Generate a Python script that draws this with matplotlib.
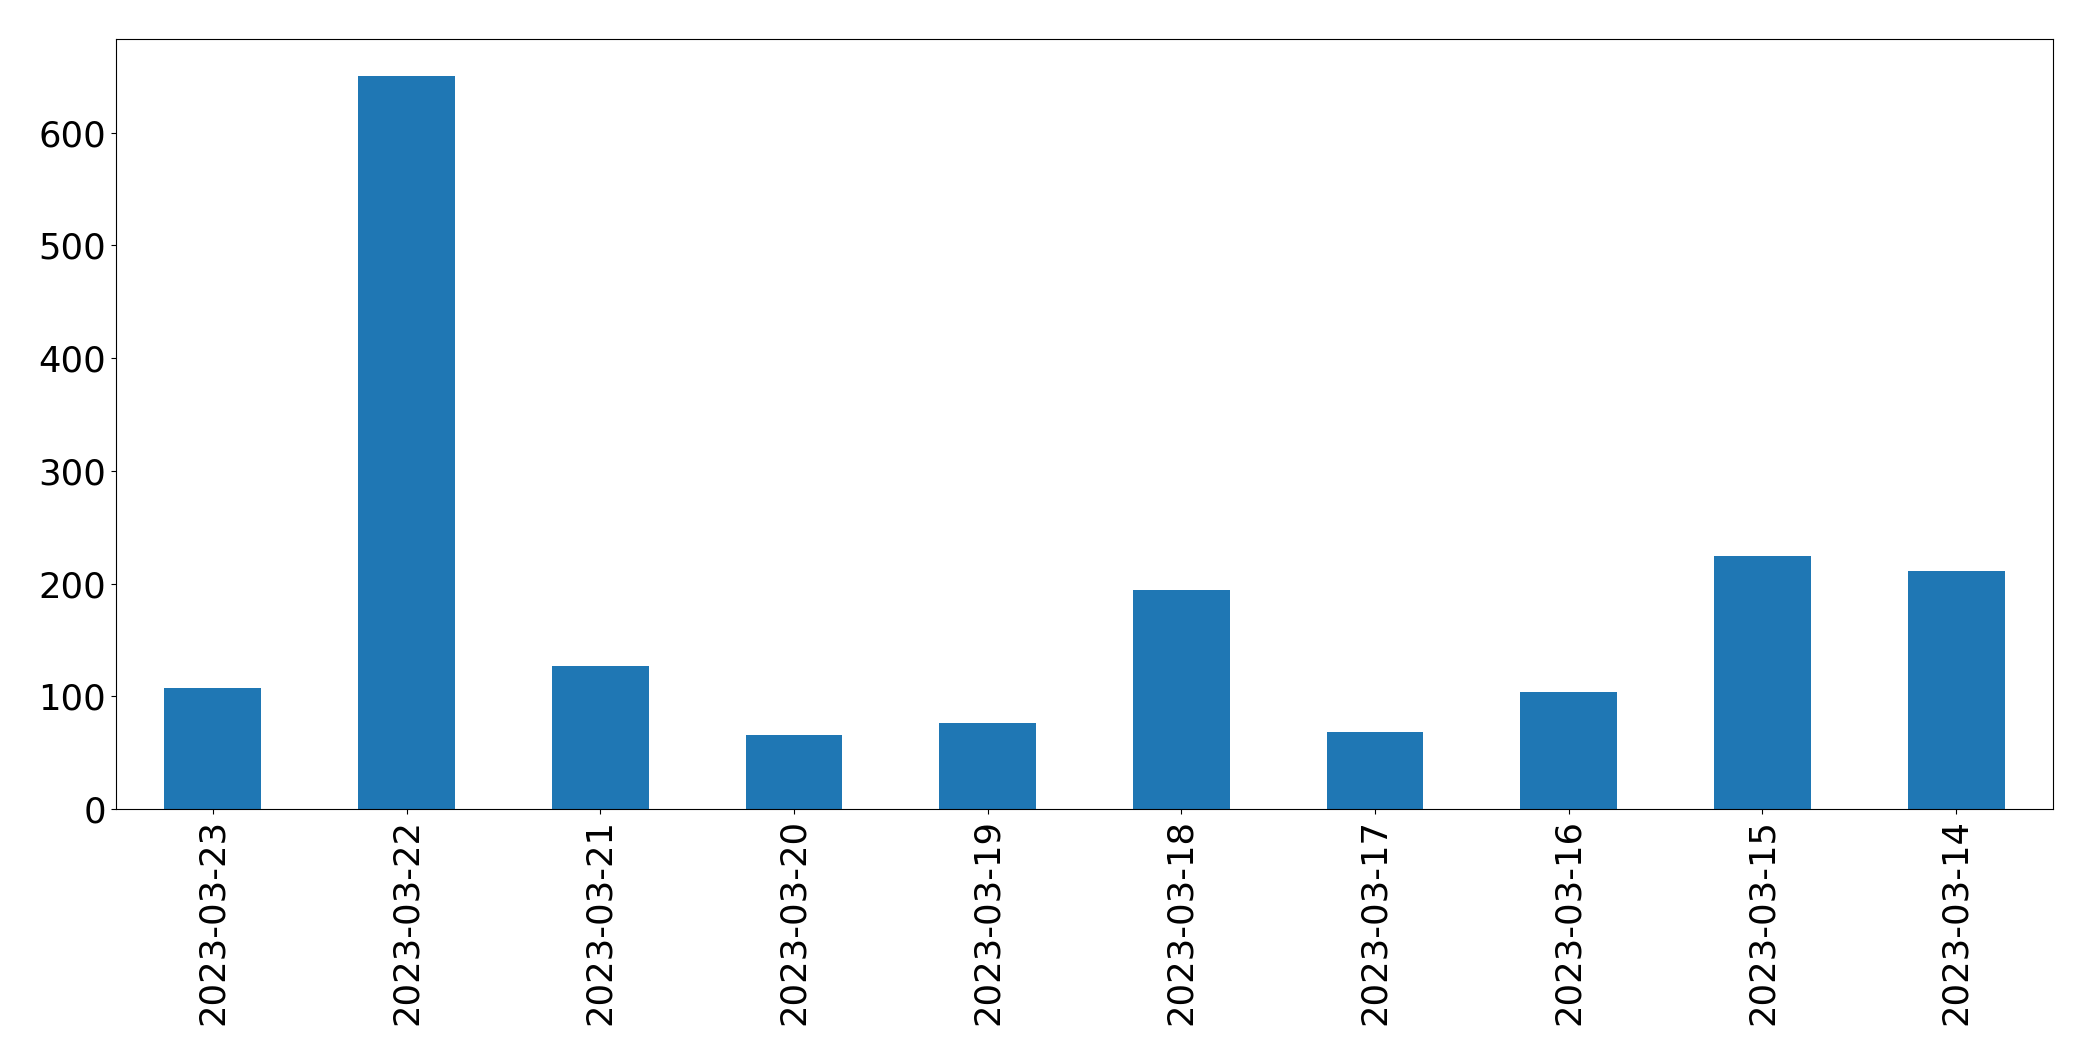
import matplotlib
matplotlib.use("Agg")
import matplotlib.pyplot as plt

dates = ["2023-03-23", "2023-03-22", "2023-03-21", "2023-03-20", "2023-03-19",
         "2023-03-18", "2023-03-17", "2023-03-16", "2023-03-15", "2023-03-14"]
counts = [107, 650, 127, 66, 76, 194, 68, 104, 224, 211]

fig = plt.figure(figsize=(20.93, 10.61), dpi=100)
ax = fig.add_axes([116 / 2093, 1 - 809 / 1061, (2053 - 116) / 2093, (809 - 39) / 1061])
x = range(len(dates))
ax.bar(x, counts, width=0.5, color="#1f77b4")
ax.set_xticks(list(x))
ax.set_xticklabels(dates, rotation=90, fontsize=25.5)
ax.tick_params(axis="y", labelsize=25.5)
ax.set_xlim(-0.5, len(dates) - 0.5)
ax.set_ylim(0, 683)
fig.savefig("out.png", dpi=100)
